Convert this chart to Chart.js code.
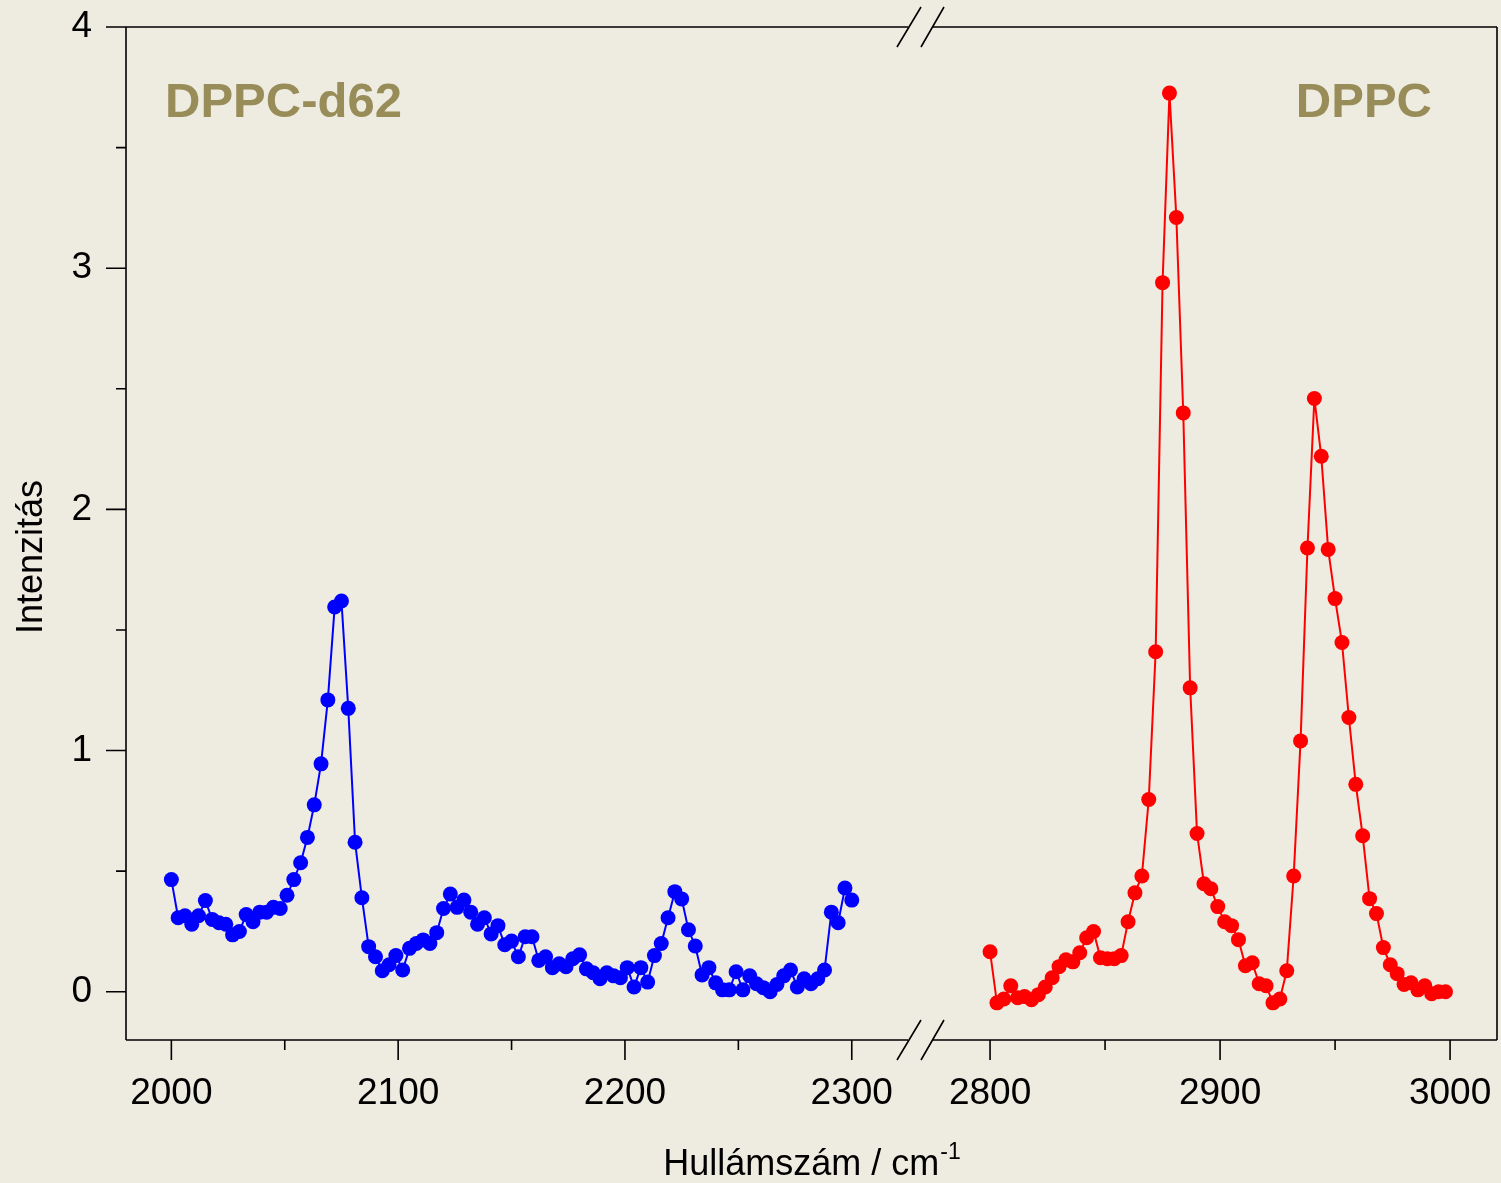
<!DOCTYPE html>
<html>
<head>
<meta charset="utf-8">
<script src="https://cdn.jsdelivr.net/npm/chart.js@4/dist/chart.umd.min.js"></script>
<style>
  html, body { margin: 0; padding: 0; background: #eeebe0; }
  canvas { display: block; }
</style>
</head>
<body>
<canvas id="spectrum" width="1501" height="1183"></canvas>
<script>
// wavenumbers (cm-1) and intensities
const d62Wavenumbers = [
    2000, 2003, 2006, 2009, 2012, 2015, 2018, 2021, 2024, 2027,
    2030, 2033, 2036, 2039, 2042, 2045, 2048, 2051, 2054, 2057,
    2060, 2063, 2066, 2069, 2072, 2075, 2078, 2081, 2084, 2087,
    2090, 2093, 2096, 2099, 2102, 2105, 2108, 2111, 2114, 2117,
    2120, 2123, 2126, 2129, 2132, 2135, 2138, 2141, 2144, 2147,
    2150, 2153, 2156, 2159, 2162, 2165, 2168, 2171, 2174, 2177,
    2180, 2183, 2186, 2189, 2192, 2195, 2198, 2201, 2204, 2207,
    2210, 2213, 2216, 2219, 2222, 2225, 2228, 2231, 2234, 2237,
    2240, 2243, 2246, 2249, 2252, 2255, 2258, 2261, 2264, 2267,
    2270, 2273, 2276, 2279, 2282, 2285, 2288, 2291, 2294, 2297,
    2300
];
const d62Intensity = [
    0.465, 0.307, 0.315, 0.28, 0.315, 0.378, 0.30, 0.286, 0.28, 0.236,
    0.25, 0.32, 0.29, 0.33, 0.33, 0.35, 0.345, 0.40, 0.465, 0.535,
    0.64, 0.775, 0.945, 1.21, 1.595, 1.62, 1.175, 0.62, 0.39, 0.187,
    0.145, 0.087, 0.112, 0.15, 0.09, 0.18, 0.20, 0.215, 0.20, 0.245,
    0.345, 0.405, 0.35, 0.38, 0.33, 0.28, 0.307, 0.24, 0.274, 0.195,
    0.21, 0.145, 0.228, 0.228, 0.13, 0.145, 0.10, 0.116, 0.104, 0.137,
    0.153, 0.095, 0.079, 0.054, 0.079, 0.066, 0.058, 0.10, 0.02, 0.10,
    0.04, 0.15, 0.20, 0.307, 0.415, 0.385, 0.257, 0.19, 0.07, 0.10,
    0.037, 0.008, 0.008, 0.083, 0.008, 0.066, 0.033, 0.017, 0.0, 0.03,
    0.066, 0.09, 0.02, 0.054, 0.033, 0.054, 0.09, 0.33, 0.286, 0.43,
    0.38
];
const dppcWavenumbers = [
    2800, 2803, 2806, 2809, 2812, 2815, 2818, 2821, 2824, 2827,
    2830, 2833, 2836, 2839, 2842, 2845, 2848, 2851, 2854, 2857,
    2860, 2863, 2866, 2869, 2872, 2875, 2878, 2881, 2884, 2887,
    2890, 2893, 2896, 2899, 2902, 2905, 2908, 2911, 2914, 2917,
    2920, 2923, 2926, 2929, 2932, 2935, 2938, 2941, 2944, 2947,
    2950, 2953, 2956, 2959, 2962, 2965, 2968, 2971, 2974, 2977,
    2980, 2983, 2986, 2989, 2992, 2995, 2998
];
const dppcIntensity = [
    0.166, -0.046, -0.03, 0.025, -0.025, -0.02, -0.033, -0.012, 0.02, 0.058,
    0.104, 0.133, 0.124, 0.162, 0.224, 0.25, 0.141, 0.137, 0.137, 0.15,
    0.29, 0.41, 0.48, 0.797, 1.41, 2.94, 3.726, 3.21, 2.40, 1.26,
    0.656, 0.448, 0.427, 0.353, 0.29, 0.274, 0.216, 0.108, 0.12, 0.033,
    0.025, -0.046, -0.03, 0.087, 0.48, 1.04, 1.84, 2.46, 2.22, 1.834,
    1.63, 1.448, 1.137, 0.86, 0.647, 0.386, 0.324, 0.183, 0.112, 0.075,
    0.03, 0.037, 0.008, 0.025, -0.008, 0.0, 0.0
];

// tick values
const yMajor = [0, 1, 2, 3, 4];
const yMinor = [0.5, 1.5, 2.5, 3.5];
const leftMajor = [2000, 2100, 2200, 2300];
const leftMinor = [2050, 2150, 2250];
const rightMajor = [2800, 2900, 3000];
const rightMinor = [2850, 2950];

const BG = '#eeebe0';
const TITLE_COLOR = '#988c58';
const FONT = '"Liberation Sans", Arial, sans-serif';
const tickFont = { family: FONT, size: 37 };

function toPoints(xs, ys) {
    return xs.map((x, i) => ({ x: x, y: ys[i] }));
}

// frame, tick marks, axis break and text drawn by hand
const framePlugin = {
    id: 'frame',
    beforeDraw(chart) {
        const ctx = chart.ctx;
        ctx.save();
        ctx.fillStyle = BG;
        ctx.fillRect(0, 0, chart.width, chart.height);
        ctx.restore();
    },
    afterDraw(chart) {
        const ctx = chart.ctx;
        const a = chart.chartArea;
        const y = chart.scales.y;
        const xL = chart.scales.xL;
        const xR = chart.scales.xR;
        const gapL = xL.right - 5, gapR = xR.left + 20;

        ctx.save();
        ctx.strokeStyle = '#000';
        ctx.lineWidth = 1.6;
        ctx.beginPath();
        // left / right
        ctx.moveTo(a.left, a.top); ctx.lineTo(a.left, a.bottom);
        ctx.moveTo(a.right, a.top); ctx.lineTo(a.right, a.bottom);
        // top & bottom with break
        [a.top, a.bottom].forEach(yy => {
            ctx.moveTo(a.left, yy); ctx.lineTo(gapL, yy);
            ctx.moveTo(gapR, yy); ctx.lineTo(a.right, yy);
        });
        // y ticks
        yMajor.forEach(v => { const p = y.getPixelForValue(v); ctx.moveTo(a.left - 20, p); ctx.lineTo(a.left, p); });
        yMinor.forEach(v => { const p = y.getPixelForValue(v); ctx.moveTo(a.left - 10, p); ctx.lineTo(a.left, p); });
        // x ticks
        const xt = (scale, vals, len) => vals.forEach(v => {
            const p = scale.getPixelForValue(v);
            ctx.moveTo(p, a.bottom); ctx.lineTo(p, a.bottom + len);
        });
        xt(xL, leftMajor, 20); xt(xL, leftMinor, 10);
        xt(xR, rightMajor, 20); xt(xR, rightMinor, 10);
        ctx.stroke();

        // break marks
        ctx.beginPath();
        [a.top, a.bottom].forEach(yy => {
            ctx.moveTo(gapL - 11, yy + 20); ctx.lineTo(gapL + 13, yy - 20);
            ctx.moveTo(gapL + 13, yy + 20); ctx.lineTo(gapL + 36, yy - 20);
        });
        ctx.stroke();

        // panel labels
        ctx.fillStyle = TITLE_COLOR;
        ctx.font = 'bold 49px ' + FONT;
        ctx.textBaseline = 'alphabetic';
        ctx.textAlign = 'left';
        ctx.fillText('DPPC-d62', 165, 117);
        ctx.textAlign = 'right';
        ctx.fillText('DPPC', 1432, 117);

        // axis titles
        ctx.fillStyle = '#000';
        ctx.font = '36px ' + FONT;
        ctx.textAlign = 'left';
        const main = 'Hullámszám / cm';
        const wMain = ctx.measureText(main).width;
        ctx.font = '23px ' + FONT;
        const wSup = ctx.measureText('-1').width;
        const x0 = (a.left + a.right) / 2 - (wMain + wSup) / 2;
        ctx.font = '36px ' + FONT;
        ctx.fillText(main, x0, 1175);
        ctx.font = '23px ' + FONT;
        ctx.fillText('-1', x0 + wMain + 1, 1159);

        ctx.font = '36px ' + FONT;
        ctx.translate(42, 557);
        ctx.rotate(-Math.PI / 2);
        ctx.textAlign = 'center';
        ctx.fillText('Intenzitás', 0, 0);
        ctx.restore();
    }
};

function xScale(min, max, weight, ticks) {
    return {
        type: 'linear',
        position: 'bottom',
        stack: 'wn',
        stackWeight: weight,
        min: min,
        max: max,
        afterBuildTicks: s => { s.ticks = ticks.map(v => ({ value: v })); },
        afterFit: s => { s.height = 143; s.paddingLeft = 0; s.paddingRight = 0; },
        grid: { display: false },
        border: { display: false },
        ticks: { font: tickFont, color: '#000', padding: 24, maxRotation: 0, autoSkip: false,
                 callback: v => String(v) }
    };
}

function renderChart() {
    const ctx = document.getElementById('spectrum').getContext('2d');
    new Chart(ctx, {
        type: 'line',
        data: {
            datasets: [{
                label: 'DPPC-d62',
                data: toPoints(d62Wavenumbers, d62Intensity),
                xAxisID: 'xL',
                borderColor: '#0000ff',
                backgroundColor: '#0000ff',
                borderWidth: 2,
                pointRadius: 7.5,
                pointBorderWidth: 0,
                tension: 0,
            }, {
                label: 'DPPC',
                data: toPoints(dppcWavenumbers, dppcIntensity),
                xAxisID: 'xR',
                borderColor: '#ff0000',
                backgroundColor: '#ff0000',
                borderWidth: 2,
                pointRadius: 7.5,
                pointBorderWidth: 0,
                tension: 0,
            }],
        },
        options: {
            responsive: false,
            animation: false,
            layout: { autoPadding: false, padding: { top: 27, right: 4, left: 0, bottom: 0 } },
            plugins: {
                legend: { display: false },
                tooltip: { enabled: false },
            },
            scales: {
                y: {
                    type: 'linear',
                    position: 'left',
                    min: -0.2,
                    max: 4,
                    afterBuildTicks: s => { s.ticks = yMajor.map(v => ({ value: v })); },
                    afterFit: s => { s.width = 126; s.paddingTop = 0; s.paddingBottom = 0; },
                    grid: { display: false },
                    border: { display: false },
                    ticks: { font: tickFont, color: '#000', padding: 26, callback: v => String(v) },
                },
                xL: xScale(1980, 2327, 787, leftMajor),
                xR: xScale(2766.5, 3020.4, 584, rightMajor),
            },
        },
        plugins: [framePlugin],
    });
}

renderChart();
</script>
</body>
</html>
